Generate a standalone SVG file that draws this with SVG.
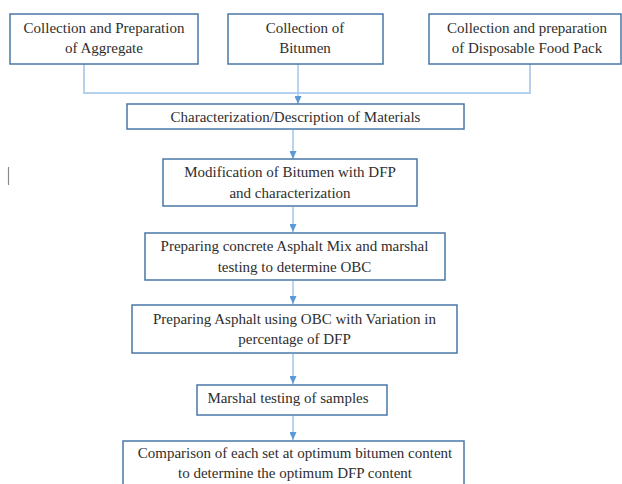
<svg xmlns="http://www.w3.org/2000/svg" width="622" height="484" viewBox="0 0 622 484">
<defs>
<style>
.box{fill:#ffffff;stroke:#4a77a6;stroke-width:1.5}
.t{font-family:"Liberation Serif","Times New Roman",serif;font-size:15px;fill:#2e2e2e;text-anchor:middle}
.ln{fill:none;stroke:#b4d2ee;stroke-width:2}
.ar{fill:none;stroke:#a9cbeb;stroke-width:1.6}
</style>
<marker id="ah" viewBox="0 0 8 7" refX="8" refY="3.5" markerWidth="8" markerHeight="7" markerUnits="userSpaceOnUse" orient="auto">
<path d="M0,0 L8,3.5 L0,7 Z" fill="#5b9bd5"/>
</marker>
</defs>
<rect width="622" height="484" fill="#ffffff"/>
<line x1="8.5" y1="167" x2="8.5" y2="185" stroke="#8a8a8a" stroke-width="1.2"/>
<g id="connectors">
<polyline class="ln" points="84,62 84,93 530,93 530,62"/>
<line class="ar" x1="298" y1="62" x2="298" y2="104" marker-end="url(#ah)"/>
<line class="ar" x1="293" y1="130" x2="293" y2="159" marker-end="url(#ah)"/>
<line class="ar" x1="293" y1="207" x2="293" y2="232" marker-end="url(#ah)"/>
<line class="ar" x1="293" y1="281" x2="293" y2="304" marker-end="url(#ah)"/>
<line class="ar" x1="293" y1="354" x2="293" y2="384" marker-end="url(#ah)"/>
<line class="ar" x1="293" y1="416" x2="293" y2="440" marker-end="url(#ah)"/>
</g>
<g id="n1">
<rect class="box" x="10" y="14" width="188" height="50"/>
<text class="t" x="104" y="33">Collection and Preparation</text>
<text class="t" x="104" y="53">of Aggregate</text>
</g>
<g id="n2">
<rect class="box" x="228" y="14" width="155" height="50"/>
<text class="t" x="305" y="33">Collection of</text>
<text class="t" x="305" y="53">Bitumen</text>
</g>
<g id="n3">
<rect class="box" x="429" y="14" width="192" height="50"/>
<text class="t" x="527" y="33">Collection and preparation</text>
<text class="t" x="527" y="53">of Disposable Food Pack</text>
</g>
<g id="n4">
<rect class="box" x="127" y="104" width="337" height="25"/>
<text class="t" x="295.5" y="122">Characterization/Description of Materials</text>
</g>
<g id="n5">
<rect class="box" x="163" y="159" width="254" height="47"/>
<text class="t" x="290" y="177">Modification of Bitumen with DFP</text>
<text class="t" x="290" y="198">and characterization</text>
</g>
<g id="n6">
<rect class="box" x="145" y="233" width="300" height="47"/>
<text class="t" x="294.5" y="251">Preparing concrete Asphalt Mix and marshal</text>
<text class="t" x="294.5" y="272">testing to determine OBC</text>
</g>
<g id="n7">
<rect class="box" x="132" y="305" width="325" height="48"/>
<text class="t" x="294.5" y="324">Preparing Asphalt using OBC with Variation in</text>
<text class="t" x="294.5" y="344">percentage of DFP</text>
</g>
<g id="n8">
<rect class="box" x="197" y="385" width="190" height="30"/>
<text class="t" x="288" y="403">Marshal testing of samples</text>
</g>
<g id="n9">
<rect class="box" x="123" y="441" width="341" height="60"/>
<text class="t" x="295" y="458">Comparison of each set at optimum bitumen content</text>
<text class="t" x="295" y="478">to determine the optimum DFP content</text>
</g>
</svg>
